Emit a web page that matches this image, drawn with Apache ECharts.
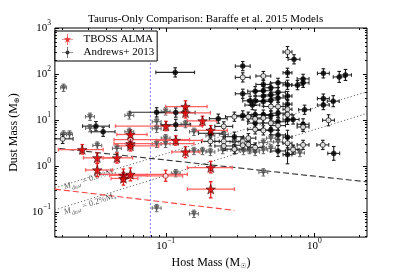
<!DOCTYPE html>
<html><head><meta charset="utf-8">
<script src="https://cdn.jsdelivr.net/npm/echarts@6/dist/echarts.min.js"></script>
<style>html,body{margin:0;padding:0;background:#fff}#c{width:407px;height:275px}</style>
</head><body><div id="c"></div>
<script>
// ---------- DATA ----------
// TBOSS ALMA detections (red stars): x, y, x-lo, x-hi, y-lo, y-hi
const tbossX   = [0.0275,0.0347,0.0347,0.0471,0.052,0.058,0.052,0.058,0.058,0.058,0.1005,0.117,0.136,0.136,0.136,0.177,0.201,0.201,0.201];
const tbossY   = [2.25,1.49,0.81,1.49,0.62,0.65,0.53,4.8,3.04,2.7,7.3,3.56,19.5,14.2,2.0,9.5,5.9,0.91,0.31];
const tbossXlo = [0.019,0.028,0.029,0.038,0.042,0.036,0.043,0.047,0.045,0.047,0.046,0.087,0.10,0.10,0.11,0.14,0.16,0.14,0.14];
const tbossXhi = [0.038,0.047,0.044,0.060,0.075,0.14,0.065,0.075,0.155,0.09,0.177,0.177,0.19,0.20,0.17,0.22,0.26,0.28,0.29];
const tbossYlo = [1.8,1.15,0.58,1.15,0.45,0.47,0.38,3.8,2.4,2.1,5.8,2.8,15,11,1.5,7.5,4.6,0.7,0.2];
const tbossYhi = [2.9,1.9,1.12,1.9,0.85,0.9,0.72,6.0,3.8,3.4,9.3,4.5,26,18,2.6,12,7.5,1.25,0.45];
// TBOSS open circles: x, y, x-lo, x-hi, y-lo, y-hi
const tbossOpen = [[0.1,0.6,0.055,0.13,0.46,0.8],[0.058,3.7,0.045,0.145,2.9,4.6]];
// Andrews+ 2013: [x, y, x error (dex), y error (dex)]
const andFilled = [
 [0.034,7.3,0.09,0.1],[0.038,5.5,0.08,0.1],[0.087,14.6,0.18,0.1],[0.117,14.4,0.13,0.1],[0.117,7.8,0.1,0.12],
 [0.116,108,0.13,0.1],[0.2,5.1,0.08,0.1],[0.226,10.6,0.06,0.1],[0.29,4.3,0.06,0.1],[0.33,148,0.05,0.1],
 [0.33,37,0.05,0.1],[0.33,12.5,0.06,0.1],[0.37,26,0.05,0.1],[0.383,21,0.05,0.1],[0.40,42,0.05,0.1],
 [0.40,26,0.05,0.1],[0.40,13,0.05,0.1],[0.40,8.5,0.05,0.1],[0.454,59,0.05,0.1],[0.454,43,0.05,0.1],
 [0.454,33,0.05,0.1],[0.454,25,0.05,0.1],[0.454,13,0.05,0.1],[0.51,50,0.05,0.1],[0.51,35,0.05,0.1],
 [0.51,27,0.05,0.1],[0.51,12.5,0.05,0.1],[0.51,6,0.05,0.1],[0.57,64,0.05,0.1],[0.57,40,0.05,0.1],
 [0.57,30,0.05,0.1],[0.57,14,0.05,0.1],[0.57,9.1,0.05,0.1],[0.57,4.7,0.05,0.1],[0.57,2.1,0.05,0.12],
 [0.66,106,0.03,0.1],[0.66,58,0.03,0.1],[0.66,33,0.03,0.1],[0.66,22,0.03,0.1],[0.66,10,0.03,0.1],
 [0.66,4.2,0.03,0.15],[0.66,1.75,0.03,0.2],[0.72,10.2,0.04,0.1],[0.73,208,0.04,0.1],[0.77,57,0.04,0.1],
 [0.84,78,0.04,0.1],[0.84,64,0.04,0.1],[0.86,16.6,0.04,0.1],[0.84,8,0.04,0.12],[1.15,103,0.04,0.1],
 [1.15,29,0.04,0.1],[1.15,21,0.04,0.1],[1.34,25.5,0.04,0.12],[1.35,1.86,0.04,0.15],[1.47,86,0.04,0.12],
 [1.62,95,0.04,0.12]];
const andOpen = [
 [0.0203,3.85,0.07,0.1],[0.2,3.4,0.06,0.1],[0.246,7.2,0.06,0.1],[0.246,3.4,0.06,0.1],[0.246,2.7,0.06,0.1],
 [0.29,11.7,0.06,0.1],[0.29,2.3,0.06,0.1],[0.33,84,0.05,0.1],[0.33,3.4,0.05,0.1],[0.33,2.8,0.05,0.1],
 [0.36,11.7,0.05,0.1],[0.36,4.0,0.05,0.1],[0.36,2.9,0.05,0.1],[0.40,10.5,0.05,0.1],[0.40,6.2,0.05,0.1],
 [0.40,2.5,0.05,0.1],[0.454,90,0.05,0.1],[0.454,11,0.05,0.1],[0.454,5.9,0.05,0.1],[0.51,19.5,0.05,0.1],
 [0.51,8.5,0.05,0.1],[0.57,19.5,0.05,0.1],[0.57,7.5,0.05,0.1],[0.66,300,0.03,0.12],[0.66,17,0.03,0.1],
 [0.66,13,0.03,0.1],[0.66,3.1,0.03,0.1],[0.72,2.25,0.04,0.1],[0.84,7.0,0.04,0.1],[0.84,2.85,0.04,0.1],
 [1.14,2.85,0.04,0.1],[1.245,9.8,0.04,0.12]];
const andLimits = [
 [0.0206,50,0.02,0.08],[0.0206,4.8,0.02,0.08],[0.0226,4.8,0.02,0.08],[0.031,11.7,0.03,0.08],[0.031,6.6,0.03,0.08],
 [0.0347,2.76,0.03,0.08],[0.047,2.4,0.03,0.08],[0.057,12.5,0.03,0.08],[0.057,5.5,0.03,0.08],[0.087,9.1,0.03,0.08],
 [0.087,6.4,0.03,0.08],[0.087,3.0,0.03,0.08],[0.1,15.3,0.03,0.08],[0.1,4.0,0.03,0.08],[0.1,3.0,0.03,0.08],
 [0.117,0.69,0.03,0.08],[0.136,8.1,0.03,0.08],[0.155,5.5,0.03,0.08],[0.155,2.1,0.03,0.08],[0.177,2.1,0.03,0.08],
 [0.2,2.0,0.03,0.08],[0.2,4.5,0.03,0.08],[0.087,0.12,0.03,0.08],[0.155,0.09,0.03,0.08],[0.242,2.2,0.03,0.08],
 [0.246,4.8,0.03,0.08],[0.29,3.3,0.03,0.08],[0.294,2.2,0.03,0.08],[0.334,2.1,0.03,0.08],[0.366,2.2,0.03,0.08],
 [0.40,2.0,0.03,0.08],[0.454,2.2,0.03,0.08],[0.454,3.2,0.03,0.08],[0.454,0.72,0.03,0.08],[0.51,2.4,0.03,0.08],
 [0.51,4.0,0.03,0.08],[0.57,3.3,0.03,0.08],[0.72,2.3,0.03,0.08],[0.8,1.9,0.03,0.08]];
// reference lines (endpoints)
const blackDash = [[0.0193,2.38],[2.26,0.447]];
const redDash   = [[0.018,0.31],[0.29,0.107]];
const dot06     = [[0.018,0.33],[2.26,41]];
const dot02     = [[0.018,0.11],[2.26,13.8]];
const hbLimit   = [[0.079,0.028],[0.079,1000]];
const lineLabels = [[0.031,0.52,'0.6'],[0.031,0.148,'0.2']];
// axes
const xMin = 0.018, xMax = 2.26, yMin = 0.028, yMax = 1000;
const xDecades = [0.01,0.1,1], yDecades = [0.01,0.1,1,10,100,1000];

// ---------- BUILD ----------
const FF = 'Liberation Serif';
const tbossRows = tbossX.map((x,i)=>[x,tbossY[i],tbossXlo[i],tbossXhi[i],tbossYlo[i],tbossYhi[i]]);
const dexRows = a => a.map(p=>[p[0],p[1],p[0]/Math.pow(10,p[2]),p[0]*Math.pow(10,p[2]),p[1]/Math.pow(10,p[3]),p[1]*Math.pow(10,p[3])]);
function ticksOf(dec,min,max){const t=[];dec.forEach(d=>{for(let m=1;m<=9;m++){const v=d*m;if(v>=min*0.999&&v<=max*1.001)t.push([v,m===1]);}});return t;}
const xTicks = ticksOf(xDecades,xMin,xMax), yTicks = ticksOf(yDecades,yMin,yMax);

function errRender(vc, hc, w){
  return function(params, api){
    const x=api.value(0), y=api.value(1);
    const p=api.coord([x,y]);
    const l=api.coord([api.value(2),y]), r=api.coord([api.value(3),y]);
    const b=api.coord([x,api.value(4)]), t=api.coord([x,api.value(5)]);
    const c=1.8;
    const sv={stroke:vc,lineWidth:w}, sh={stroke:hc,lineWidth:w};
    return {type:'group',children:[
      {type:'line',shape:{x1:l[0],y1:p[1],x2:r[0],y2:p[1]},style:sh},
      {type:'line',shape:{x1:l[0],y1:p[1]-c,x2:l[0],y2:p[1]+c},style:sh},
      {type:'line',shape:{x1:r[0],y1:p[1]-c,x2:r[0],y2:p[1]+c},style:sh},
      {type:'line',shape:{x1:p[0],y1:b[1],x2:p[0],y2:t[1]},style:sv},
      {type:'line',shape:{x1:p[0]-c,y1:b[1],x2:p[0]+c,y2:b[1]},style:sv},
      {type:'line',shape:{x1:p[0]-c,y1:t[1],x2:p[0]+c,y2:t[1]},style:sv}
    ]};
  };
}
function tickRender(params, api){
  const cs=params.coordSys, L=cs.x, R=cs.x+cs.width, T=cs.y, B=cs.y+cs.height;
  const ch=[], st={stroke:'#000',lineWidth:1};
  xTicks.forEach(([v,maj])=>{const px=Math.round(api.coord([v,1])[0])+0.5;const len=maj?4:2;
    ch.push({type:'line',shape:{x1:px,y1:B,x2:px,y2:B-len},style:st});
    ch.push({type:'line',shape:{x1:px,y1:T,x2:px,y2:T+len},style:st});});
  yTicks.forEach(([v,maj])=>{const py=Math.round(api.coord([1,v])[1])+0.5;const len=maj?4:2;
    ch.push({type:'line',shape:{x1:L,y1:py,x2:L+len,y2:py},style:st});
    ch.push({type:'line',shape:{x1:R,y1:py,x2:R-len,y2:py},style:st});});
  return {type:'group',children:ch};
}
const isPow = v => Math.abs(Math.log10(v)-Math.round(Math.log10(v)))<1e-6;
const powFmt = v => isPow(v) ? '{b|10}{s|'+String(Math.round(Math.log10(v))).replace('-','\u2212')+'}' : '';
const powRich = {b:{fontFamily:FF,fontSize:11,color:'#000',lineHeight:12,verticalAlign:'bottom'},
                 s:{fontFamily:FF,fontSize:7.5,color:'#000',lineHeight:8,padding:[0,0,7,0],verticalAlign:'bottom'}};
const STAR='path://M0,-10 L2.35,-3.24 L9.51,-3.09 L3.8,1.24 L5.88,8.09 L0,4 L-5.88,8.09 L-3.8,1.24 L-9.51,-3.09 L-2.35,-3.24 Z';
const LEG_STAR='path://M0,9.4 L20,9.4 L20,10.6 L0,10.6 Z M9.4,0 L10.6,0 L10.6,20 L9.4,20 Z M10,3 L11.6,7.8 L16.7,7.9 L12.6,10.9 L14.1,15.7 L10,12.8 L5.9,15.7 L7.4,10.9 L3.3,7.9 L8.4,7.8 Z';
const LEG_CIRC='path://M0,9.4 L20,9.4 L20,10.6 L0,10.6 Z M9.4,0 L10.6,0 L10.6,20 L9.4,20 Z M10,6.5 A3.5,3.5 0 1 1 9.99,6.5 Z';

const lineSeries = (data, color, type, w) => ({type:'line',data,symbol:'none',silent:true,z:3,
  lineStyle:{color,width:w,type},animation:false,clip:true});

const chart = echarts.init(document.getElementById('c'),null,{renderer:'canvas'});
chart.setOption({
  animation:false,
  backgroundColor:'#fff',
  title:{text:'Taurus-Only Comparison: Baraffe et al. 2015 Models',left:88,top:14,padding:0,
    textStyle:{fontFamily:FF,fontSize:11,fontWeight:'normal',color:'#000'}},
  legend:{left:55,top:31,orient:'vertical',padding:[3,3,3,7],itemGap:2,itemWidth:12,itemHeight:11,
    borderColor:'#000',borderWidth:1,borderRadius:0,backgroundColor:'#fff',
    textStyle:{fontFamily:FF,fontSize:11,color:'#000',padding:[0,0,0,5]},
    data:[{name:'TBOSS ALMA',icon:LEG_STAR,itemStyle:{color:'#e00000',borderWidth:0}},
          {name:'Andrews+ 2013',icon:LEG_CIRC,itemStyle:{color:'#000',borderWidth:0}}]},
  grid:{left:51,right:40,top:28,bottom:28,show:true,borderColor:'#000',borderWidth:1,backgroundColor:'transparent'},
  xAxis:{type:'log',logBase:10,min:xMin,max:xMax,
    axisLine:{show:false},axisTick:{show:false},splitLine:{show:false},minorTick:{show:false},
    axisLabel:{formatter:powFmt,rich:powRich,margin:3,showMinLabel:false,showMaxLabel:false},
    name:'{a|Host Mass (M}{u|\u2609}{a|)}',nameLocation:'middle',nameGap:12,
    nameTextStyle:{rich:{a:{fontFamily:FF,fontSize:12,color:'#000',lineHeight:13,verticalAlign:'top'},
                         u:{fontFamily:'DejaVu Sans',fontSize:7,color:'#000',lineHeight:7,padding:[6,0,0,0],verticalAlign:'top'}}}},
  yAxis:{type:'log',logBase:10,min:yMin,max:yMax,
    axisLine:{show:false},axisTick:{show:false},splitLine:{show:false},minorTick:{show:false},
    axisLabel:{formatter:powFmt,rich:powRich,margin:4,showMinLabel:false,showMaxLabel:true},
    name:'{a|Dust Mass (M}{u|\u2295}{a|)}',nameLocation:'middle',nameGap:27,
    nameTextStyle:{rich:{a:{fontFamily:FF,fontSize:12,color:'#000',lineHeight:13,verticalAlign:'top'},
                         u:{fontFamily:'DejaVu Sans',fontSize:7,color:'#000',lineHeight:7,padding:[6,0,0,0],verticalAlign:'top'}}}},
  series:[
    lineSeries(hbLimit,'#7878ff',[2,2],1),
    lineSeries(dot06,'#666',[1.2,2.2],1),
    lineSeries(dot02,'#666',[1.2,2.2],1),
    lineSeries(blackDash,'#333',[6,3],1.1),
    lineSeries(redDash,'#ff4040',[6,3],1.1),
    {type:'scatter',data:lineLabels.map(d=>[d[0],d[1],d[2]]),symbolSize:0,silent:true,z:4,
      label:{show:true,position:'inside',rotate:18,
        formatter:p=>'{i|M}{d|dust}{t| = '+p.value[2]+'%M}{d|*}',
        rich:{i:{fontFamily:FF,fontStyle:'italic',fontSize:8.5,color:'#333',lineHeight:9,verticalAlign:'top'},
              t:{fontFamily:FF,fontSize:8.5,color:'#333',lineHeight:9,verticalAlign:'top'},
              d:{fontFamily:FF,fontStyle:'italic',fontSize:6,color:'#333',lineHeight:6,padding:[5,0,0,0],verticalAlign:'top'}}}},
    // Andrews error bars
    {type:'custom',name:'limErr',data:dexRows(andLimits),renderItem:errRender('#666','#666',1),clip:true,z:5,silent:true},
    {type:'custom',name:'andErr',data:dexRows(andFilled.concat(andOpen)),renderItem:errRender('#1a1a1a','#2a2a2a',1.1),clip:true,z:5,silent:true},
    // TBOSS error bars
    {type:'custom',name:'tbErr',data:tbossRows.concat(tbossOpen),renderItem:errRender('#ee2020','#ff6060',1.3),clip:true,z:6,silent:true},
    // markers
    {type:'scatter',name:'limits',data:andLimits.map(p=>[p[0],p[1]]),symbol:'triangle',symbolRotate:180,symbolSize:5,z:7,
      itemStyle:{color:'#555',borderColor:'#333',borderWidth:0.5}},
    {type:'scatter',name:'Andrews+ 2013',data:andFilled.map(p=>[p[0],p[1]]),symbol:'circle',symbolSize:5,z:7,
      itemStyle:{color:'#000',borderColor:'#000',borderWidth:0.5}},
    {type:'scatter',name:'andOpen',data:andOpen.map(p=>[p[0],p[1]]),symbol:'circle',symbolSize:5,z:7,
      itemStyle:{color:'#fff',borderColor:'#000',borderWidth:0.9}},
    {type:'scatter',name:'tbOpen',data:tbossOpen.map(p=>[p[0],p[1]]),symbol:'circle',symbolSize:5,z:8,
      itemStyle:{color:'#fff',borderColor:'#a00',borderWidth:0.9}},
    {type:'scatter',name:'TBOSS ALMA',data:tbossRows.map(p=>[p[0],p[1]]),symbol:STAR,symbolSize:9.5,z:8,
      itemStyle:{color:'#e00000',borderColor:'#300',borderWidth:0.7}},
    // ticks on all four sides
    {type:'custom',name:'ticks',data:[[1,1]],renderItem:tickRender,z:20,silent:true,clip:false}
  ]
});
</script></body></html>
